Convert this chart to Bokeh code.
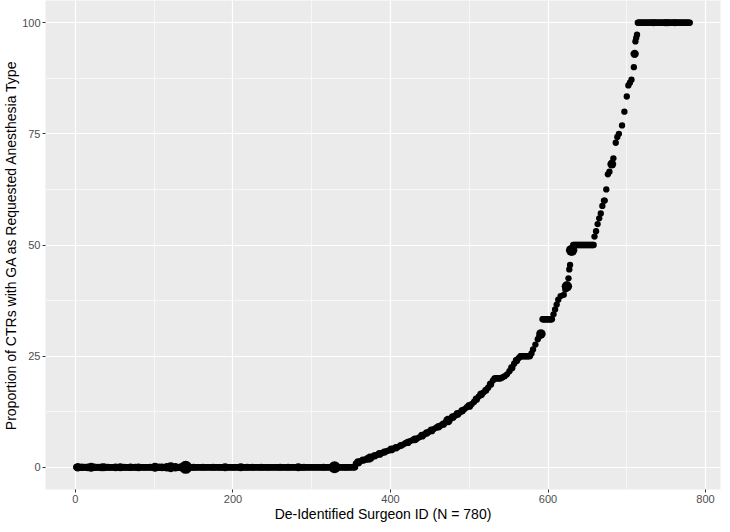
from math import sqrt
from bokeh.plotting import figure
from bokeh.models import Range1d, FixedTicker, ColumnDataSource
from bokeh.embed import file_html
from bokeh.resources import INLINE

# ---- data ----
# runs of consecutive surgeons sharing the same proportion: (first id, last id, %)
plateau_first = [1, 532, 565, 593, 632, 714]
plateau_last = [355, 540, 577, 605, 658, 780]
plateau_pct = [0.0, 20.0, 25.0, 33.3, 50.0, 100.0]

# sloped parts of the curve (surgeon id, % GA)
slope_ids = [356, 359, 362, 365, 368, 371, 374, 377, 380, 383, 386, 389, 392, 395, 398,
             401, 404, 407, 410, 413, 416, 419, 422, 425, 428, 431, 434, 437, 440, 443,
             446, 449, 452, 455, 458, 461, 464, 467, 470, 473, 476, 479, 482, 485, 488,
             491, 494, 497, 500, 503, 506, 509, 512, 515, 518, 521, 524, 527, 530,
             542, 545, 548, 551, 554, 557, 560, 563,
             579, 581, 584, 587, 589, 591,
             607, 609, 611, 613, 616, 620, 622, 624, 626, 627, 628, 630,
             659, 661, 663, 665, 667, 669, 671, 672, 674, 676, 678, 681, 683, 686, 688,
             690, 694, 697, 700, 702, 704, 706, 709, 710, 711, 712, 713]
slope_pct = [0.8, 1.1, 1.4, 1.6, 1.7, 1.9, 2.1, 2.4, 2.6, 2.8, 3.0, 3.2, 3.4, 3.6, 3.8,
             4.0, 4.2, 4.4, 4.6, 4.9, 5.1, 5.4, 5.6, 5.9, 6.1, 6.3, 6.5, 6.8, 7.1, 7.4,
             7.7, 8.0, 8.3, 8.6, 8.9, 9.1, 9.4, 9.7, 10.1, 10.5, 10.9, 11.3, 11.6, 12.0, 12.3,
             12.7, 13.1, 13.5, 13.8, 14.2, 14.7, 15.3, 15.9, 16.4, 16.8, 17.3, 17.9, 18.7, 19.5,
             20.2, 20.5, 20.9, 21.6, 22.4, 23.3, 24.0, 24.6,
             25.6, 26.5, 27.6, 28.8, 29.4, 30.0,
             34.4, 35.5, 36.6, 37.7, 38.5, 38.8, 40.0, 40.7, 42.5, 44.5, 45.5, 48.8,
             51.9, 53.1, 54.7, 56.0, 57.1, 58.8, 60.0, 60.0, 62.5, 65.9, 66.5, 68.2, 69.5, 73.0, 74.3,
             75.0, 76.9, 80.0, 83.4, 85.9, 86.5, 87.2, 90.0, 93.0, 95.8, 96.6, 97.3]

# surgeons with larger CTR volume (bigger dots); others use the default volume
big_ids = [3, 8, 12, 16, 20, 24, 28, 33, 36, 41, 45, 51, 57, 62, 66, 70, 76, 80, 88, 95,
           101, 106, 110, 116, 121, 127, 134, 140, 150, 162, 175, 183, 190, 200, 210, 218,
           225, 236, 245, 260, 270, 283, 290, 300, 315, 329, 343,
           359, 365, 371, 374, 380, 386, 392, 401, 407, 413, 422, 431, 440, 446, 452, 461,
           467, 473, 479, 485, 491, 500, 509, 515, 521, 527, 554, 560, 591, 624, 630, 681,
           710, 734, 749, 752, 761]
big_n = [14, 11, 10, 12, 16, 11, 10, 12, 13, 10, 9, 12, 13, 10, 9, 11, 10, 12, 9, 10,
         16, 11, 12, 14, 20, 14, 13, 34, 10, 10, 10, 9, 13, 9, 13, 10,
         10, 10, 9, 10, 10, 13, 10, 8, 10, 29, 9,
         13, 11, 12, 16, 11, 12, 10, 12, 11, 10, 11, 12, 12, 11, 12, 11,
         11, 18, 12, 12, 11, 12, 11, 12, 10, 11, 11, 11, 18, 22, 26, 16,
         14, 10, 10, 10, 10]
default_n = 8

# ---- assemble ----
ids, pct = [], []
for a, b, v in zip(plateau_first, plateau_last, plateau_pct):
    for i in range(a, b + 1):
        ids.append(i)
        pct.append(v)
ids += slope_ids
pct += slope_pct
lookup = dict(zip(big_ids, big_n))
ctr_n = [lookup.get(i, default_n) for i in ids]
dot = [2.236 * sqrt(k) for k in ctr_n]

src = ColumnDataSource(dict(x=ids, y=pct, s=dot))

p = figure(width=722, height=524, x_range=Range1d(-38, 819), y_range=Range1d(-5, 105),
           output_backend="svg", toolbar_location=None,
           min_border_left=20, min_border_right=2, min_border_top=0, min_border_bottom=20)
p.background_fill_color = "#EBEBEB"
p.border_fill_color = "white"
p.outline_line_color = None

p.xaxis.ticker = FixedTicker(ticks=[0, 200, 400, 600, 800], minor_ticks=[100, 300, 500, 700])
p.yaxis.ticker = FixedTicker(ticks=[0, 25, 50, 75, 100], minor_ticks=[12.5, 37.5, 62.5, 87.5])

for g in (p.xgrid, p.ygrid):
    g.grid_line_color = "white"
    g.grid_line_width = 1.2
    g.minor_grid_line_color = "white"
    g.minor_grid_line_width = 0.6

for ax in (p.xaxis, p.yaxis):
    ax.axis_line_color = None
    ax.major_tick_line_color = "#333333"
    ax.major_tick_out = 3
    ax.major_tick_in = 0
    ax.minor_tick_line_color = None
    ax.major_label_text_color = "#4D4D4D"
    ax.major_label_text_font = "Liberation Sans"
    ax.major_label_text_font_size = "11px"
    ax.major_label_standoff = 1
    ax.axis_label_text_font = "Liberation Sans"
    ax.axis_label_text_font_size = "14px"
    ax.axis_label_text_font_style = "normal"
    ax.axis_label_text_color = "black"
    ax.axis_label_standoff = 0

p.xaxis.axis_label = "De-Identified Surgeon ID (N = 780)"
p.yaxis.axis_label = "Proportion of CTRs with GA as Requested Anesthesia Type"

p.scatter("x", "y", size="s", source=src, fill_color="black", line_color=None)

open("out.html", "w").write(file_html(p, INLINE))
